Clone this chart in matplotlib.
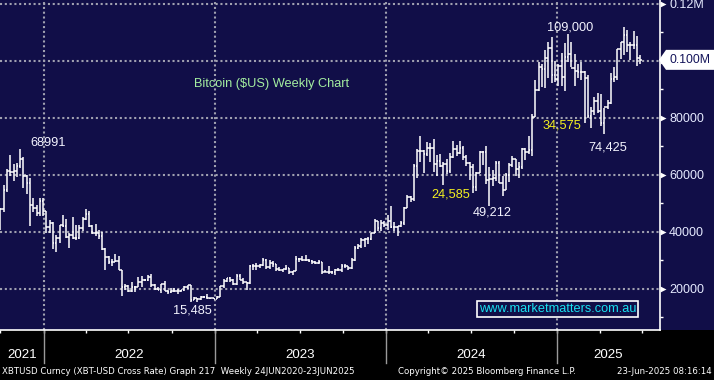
import matplotlib
matplotlib.use("Agg")
import matplotlib.pyplot as plt
import matplotlib.dates as mdates
from matplotlib import patches, transforms, font_manager
import numpy as np
import pandas as pd

# weekly XBTUSD bars (thousands of USD), dated on Fridays
first_week = "2021-10-01"

open_2021 = [43.2, 48.2, 54.9, 61.5, 61.1, 61.3, 63.3, 65.5, 59.7, 57.2, 49.4, 48.4, 46.7, 50.8]
high_2021 = [48.4, 56.6, 62.0, 67.0, 63.7, 64.3, 69.0, 66.3, 59.9, 59.0, 51.9, 49.5, 51.8, 52.0]
low_2021 = [40.8, 47.1, 53.9, 59.5, 57.8, 59.4, 62.3, 55.6, 53.3, 42.0, 47.1, 45.5, 45.6, 45.7]
close_2021 = [48.2, 54.9, 61.5, 61.1, 61.3, 63.3, 65.5, 59.7, 57.2, 49.4, 48.4, 46.7, 50.8, 47.3]

open_2022 = [47.3, 41.9, 43.1, 36.3, 37.9, 42.4, 42.2, 38.4, 39.1, 38.0, 37.8, 41.3, 44.5,
             46.4, 42.2, 39.7, 39.5, 38.5, 34.1, 31.3, 29.4, 29.5, 29.9, 26.6, 20.6, 21.0,
             19.3, 20.8, 20.8, 22.6, 23.3, 23.2, 24.3, 21.5, 19.9, 19.8, 21.8, 19.4, 18.8,
             19.3, 19.4, 19.2, 19.6, 20.6, 21.3, 16.3, 16.7, 16.5, 17.1, 17.1, 16.8, 16.8]
high_2022 = [47.5, 44.3, 43.5, 38.9, 42.5, 45.8, 44.7, 39.8, 45.4, 42.4, 42.4, 45.1, 48.2,
             47.4, 42.4, 42.9, 40.8, 40.0, 34.3, 31.4, 30.6, 32.2, 31.6, 26.8, 21.8, 21.5,
             22.4, 21.0, 24.2, 24.6, 23.6, 24.9, 25.2, 21.8, 20.6, 21.8, 22.8, 19.6, 20.3,
             20.4, 19.9, 19.7, 21.0, 21.4, 21.4, 17.2, 16.8, 17.4, 17.4, 18.4, 17.0, 16.9]
low_2022 = [39.7, 39.6, 34.0, 32.9, 36.3, 41.7, 38.0, 34.3, 37.5, 37.2, 37.6, 40.5, 44.3,
            41.9, 39.2, 38.5, 37.6, 33.7, 26.7, 28.6, 28.0, 29.3, 26.6, 17.6, 19.6, 18.8,
            19.0, 18.9, 20.7, 20.7, 22.7, 22.7, 20.8, 19.5, 19.6, 18.5, 19.3, 18.1, 18.5,
            19.0, 18.2, 18.9, 19.3, 20.1, 15.6, 16.2, 15.5, 16.0, 16.9, 16.6, 16.6, 16.4]
close_2022 = [41.9, 43.1, 36.3, 37.9, 42.4, 42.2, 38.4, 39.1, 38.0, 37.8, 41.3, 44.5, 46.4,
              42.2, 39.7, 39.5, 38.5, 34.1, 31.3, 29.4, 29.5, 29.9, 26.6, 20.6, 21.0, 19.3,
              20.8, 20.8, 22.6, 23.3, 23.2, 24.3, 21.5, 19.9, 19.8, 21.8, 19.4, 18.8, 19.3,
              19.4, 19.2, 19.6, 20.6, 21.3, 16.3, 16.7, 16.5, 17.1, 17.1, 16.8, 16.8, 16.6]

open_2023 = [16.6, 17.1, 20.9, 22.7, 23.7, 23.3, 21.8, 24.6, 23.2, 22.4, 22.0, 28.0, 27.9,
             28.0, 28.3, 30.3, 27.6, 29.2, 28.9, 26.9, 26.7, 26.9, 27.2, 25.8, 26.3, 30.5,
             30.6, 30.2, 30.3, 29.9, 29.3, 29.0, 29.4, 26.1, 26.0, 25.8, 25.8, 26.5, 26.6,
             27.9, 27.9, 27.2, 30.0, 34.5, 35.0, 37.1, 37.4, 37.5, 39.5, 43.8, 41.4, 43.0]
high_2023 = [17.4, 21.2, 23.4, 23.8, 24.2, 23.4, 25.2, 25.1, 23.9, 22.6, 28.4, 28.9, 29.2,
             28.6, 31.0, 30.5, 30.0, 29.8, 28.9, 27.6, 27.1, 28.4, 27.2, 26.4, 31.4, 31.0,
             31.4, 31.8, 30.4, 30.0, 29.9, 30.2, 29.5, 26.8, 28.1, 26.2, 26.9, 27.5, 28.6,
             28.6, 28.0, 31.0, 35.2, 35.9, 37.9, 37.9, 38.4, 39.8, 44.7, 44.0, 44.3, 43.8]
low_2023 = [16.5, 17.1, 20.4, 22.3, 22.5, 21.4, 21.4, 23.1, 21.9, 19.6, 21.9, 26.6, 26.5,
            27.2, 28.1, 27.1, 26.9, 27.7, 26.3, 26.4, 25.9, 26.5, 25.4, 24.8, 26.2, 29.5,
            29.7, 29.9, 29.6, 28.9, 28.6, 28.7, 25.2, 25.8, 25.3, 25.4, 24.9, 26.4, 26.0,
            27.3, 26.6, 26.9, 29.9, 34.1, 34.5, 34.8, 35.7, 37.2, 39.5, 40.2, 40.5, 41.6]
close_2023 = [17.1, 20.9, 22.7, 23.7, 23.3, 21.8, 24.6, 23.2, 22.4, 22.0, 28.0, 27.9, 28.0,
              28.3, 30.3, 27.6, 29.2, 28.9, 26.9, 26.7, 26.9, 27.2, 25.8, 26.3, 30.5, 30.6,
              30.2, 30.3, 29.9, 29.3, 29.0, 29.4, 26.1, 26.0, 25.8, 25.8, 26.5, 26.6, 27.9,
              27.9, 27.2, 30.0, 34.5, 35.0, 37.1, 37.4, 37.5, 39.5, 43.8, 41.4, 43.0, 42.3]

open_2024 = [42.3, 43.9, 41.7, 41.6, 42.0, 43.0, 48.3, 52.1, 51.7, 63.1, 68.4, 68.4, 67.2,
             69.6, 69.4, 63.9, 64.9, 63.1, 63.9, 61.5, 66.3, 69.0, 67.8, 69.6, 66.2, 64.3,
             62.7, 55.9, 60.8, 68.2, 68.2, 58.2, 58.7, 58.9, 64.2, 57.3, 54.8, 59.9, 63.6,
             65.6, 62.1, 62.9, 69.0, 68.0, 68.7, 80.4, 89.8, 97.9, 97.3, 101.2, 104.4, 95.2, 93.7]
high_2024 = [45.9, 49.0, 43.5, 42.2, 43.9, 48.6, 52.8, 52.5, 64.0, 69.2, 73.8, 68.9, 71.7,
             71.3, 72.7, 66.9, 67.2, 64.7, 65.5, 67.6, 71.9, 70.6, 72.0, 70.2, 66.9, 64.4,
             63.8, 60.9, 68.4, 68.5, 70.0, 62.7, 61.8, 65.0, 64.9, 59.8, 60.6, 64.1, 66.5,
             65.6, 64.4, 69.4, 69.5, 73.6, 81.5, 93.5, 99.6, 98.9, 104.0, 106.5, 108.3, 99.9, 98.9]
low_2024 = [40.8, 41.5, 40.3, 38.5, 41.8, 42.3, 48.3, 50.6, 50.9, 59.0, 64.5, 60.8, 66.7,
            64.5, 61.0, 59.7, 62.8, 56.5, 60.2, 60.8, 66.1, 66.6, 67.5, 65.1, 63.3, 58.4,
            53.5, 54.3, 60.7, 63.6, 57.0, 49.1, 56.1, 57.8, 57.2, 52.6, 54.6, 57.5, 62.7,
            59.8, 58.9, 62.0, 65.2, 67.5, 66.8, 80.4, 89.4, 90.8, 90.5, 94.2, 92.2, 92.5, 91.3]
close_2024 = [43.9, 41.7, 41.6, 42.0, 43.0, 48.3, 52.1, 51.7, 63.1, 68.4, 68.4, 67.2, 69.6,
              69.4, 63.9, 64.9, 63.1, 63.9, 61.5, 66.3, 69.0, 67.8, 69.6, 66.2, 64.3, 62.7,
              55.9, 60.8, 68.2, 68.2, 58.2, 58.7, 58.9, 64.2, 57.3, 54.8, 59.9, 63.6, 65.6,
              62.1, 62.9, 69.0, 68.0, 68.7, 80.4, 89.8, 97.9, 97.3, 101.2, 104.4, 95.2, 93.7, 98.4]

open_2025 = [98.4, 94.5, 101.3, 102.6, 97.7, 96.5, 96.1, 96.3, 94.2, 80.7, 82.6, 86.1, 82.4,
             78.4, 83.7, 85.2, 93.8, 94.3, 104.2, 106.5, 109.1, 105.7, 105.6, 105.6, 100.9]
high_2025 = [102.7, 106.4, 109.6, 106.5, 102.5, 98.8, 99.5, 96.5, 95.0, 84.0, 87.4, 88.8, 88.5,
             83.6, 86.4, 95.8, 97.9, 104.3, 106.7, 111.9, 110.7, 106.8, 110.6, 108.9, 102.0]
low_2025 = [91.2, 89.3, 99.5, 97.8, 91.2, 94.1, 93.4, 78.2, 80.0, 76.6, 81.2, 81.6, 77.2,
            74.4, 83.0, 85.0, 92.8, 93.4, 100.7, 102.0, 103.1, 100.4, 104.1, 98.2, 99.0]
close_2025 = [94.5, 101.3, 102.6, 97.7, 96.5, 96.1, 96.3, 94.2, 80.7, 82.6, 86.1, 82.4, 78.4,
              83.7, 85.2, 93.8, 94.3, 104.2, 106.5, 109.1, 105.7, 105.6, 105.6, 100.9, 100.4]

year_labels = ["2021", "2022", "2023", "2024", "2025"]
price_ticks = [20000, 40000, 60000, 80000, 100000, 120000]
price_labels = ["20000", "40000", "60000", "80000", "", "0.12M"]

NAVY = "#110e48"
WHITE = "#f4f4ff"
GRID = "#a0a0b0"

# narrow face if the system has it, otherwise plain Liberation Sans a bit smaller
installed = {f.name for f in font_manager.fontManager.ttflist}
if "Liberation Sans Narrow" in installed:
    NARROW, NSIZE = "Liberation Sans Narrow", 11
else:
    NARROW, NSIZE = "Liberation Sans", 9.2

opens = np.array(open_2021 + open_2022 + open_2023 + open_2024 + open_2025) * 1000
highs = np.array(high_2021 + high_2022 + high_2023 + high_2024 + high_2025) * 1000
lows = np.array(low_2021 + low_2022 + low_2023 + low_2024 + low_2025) * 1000
closes = np.array(close_2021 + close_2022 + close_2023 + close_2024 + close_2025) * 1000
dates = pd.date_range(first_week, periods=len(closes), freq="7D")
x = mdates.date2num(dates)

fig = plt.figure(figsize=(7.14, 3.80), dpi=100, facecolor="black")
fig.patches.append(patches.Rectangle((0, 50 / 380), 1, 330 / 380, transform=fig.transFigure,
                                     facecolor=NAVY, edgecolor="none", zorder=-5))
ax = fig.add_axes([0, 50 / 380, 660 / 714, 330 / 380], facecolor=NAVY)

# OHLC bars
ax.vlines(x, lows, highs, color="white", lw=1.1, zorder=3)
ax.hlines(opens, x - 3.2, x, color="white", lw=1.1, zorder=3)
ax.hlines(closes, x, x + 3.2, color="white", lw=1.1, zorder=3)

ax.set_xlim(mdates.datestr2num("2021-09-30"), mdates.datestr2num("2025-08-08"))
ax.set_ylim(5600, 121400)

# grid
for v in price_ticks:
    ax.axhline(v, color=GRID, lw=1.5, ls=(0, (1, 1.3)), zorder=1)
years = [mdates.datestr2num(f"{y}-01-01") for y in range(2022, 2026)]
for d in years:
    ax.axvline(d, color=GRID, lw=1.5, ls=(0, (1, 1.3)), zorder=1)

# axes frame
for s in ["top", "left"]:
    ax.spines[s].set_visible(False)
for s in ["right", "bottom"]:
    ax.spines[s].set_color("white")
    ax.spines[s].set_linewidth(1.2)

# x ticks: quarters, labels drawn by hand
quarters = pd.date_range("2021-10-01", "2025-07-01", freq="QS")
ax.set_xticks(mdates.date2num(quarters))
ax.set_xticklabels([])
ax.tick_params(axis="x", direction="out", length=2.5, width=1, color="white")

# right price axis
ax.yaxis.tick_right()
ax.set_yticks(price_ticks)
ax.set_yticklabels(price_labels)
ax.set_yticks(np.arange(10000, 120000, 20000), minor=True)
ax.tick_params(axis="y", which="major", length=0, pad=6.5, labelcolor="#e6eaff",
               labelsize=9)
ax.tick_params(axis="y", which="minor", length=2.5, width=1, color="white", right=True)
for lab in ax.get_yticklabels():
    lab.set_fontfamily("Liberation Sans")

ytrans = transforms.blended_transform_factory(ax.transAxes, ax.transData)
ax.plot([1 + 3 / 660] * len(price_ticks), price_ticks, ls="none", marker=">", ms=5,
        color="white", mec="none", transform=ytrans, clip_on=False, zorder=5)

# last price tag
last = closes[-1]
fig.canvas.draw()
ax_x, ax_y = ytrans.transform((1.0, last))
tag = np.array([[ax_x - 1, ax_y], [ax_x + 6, ax_y + 10], [714, ax_y + 10],
                [714, ax_y - 10], [ax_x + 6, ax_y - 10]])
ax.add_patch(patches.Polygon(tag, closed=True, facecolor="white", edgecolor="none",
                             transform=transforms.IdentityTransform(), clip_on=False, zorder=6))
ax.text(1 + 9 / 660, last, f"{last / 1e6:.3f}M", transform=ytrans, ha="left", va="center",
        color="#14145a", fontsize=8.8, family="Liberation Sans", clip_on=False, zorder=7)

# year labels and separators
xtrans = transforms.blended_transform_factory(ax.transData, ax.transAxes)
x0, x1 = ax.get_xlim()
edges = [x0] + years + [x1]
for i, lab in enumerate(year_labels):
    ax.text((edges[i] + edges[i + 1]) / 2, -25 / 330, lab, transform=xtrans, ha="center",
            va="center", color="white", fontsize=NSIZE + 0.4, family=NARROW)
for d in years:
    ax.plot([d, d], [0, -33 / 330], transform=xtrans, color="#9a9a9a", lw=1, clip_on=False)

# annotations
note = dict(fontsize=NSIZE, family=NARROW, ha="left", va="center", zorder=4)
ax.text(mdates.datestr2num("2021-12-03"), 71200, "68991", color=WHITE, **note)
ax.text(mdates.datestr2num("2022-10-04"), 12300, "15,485", color=WHITE, **note)
ax.text(mdates.datestr2num("2024-04-08"), 53000, "24,585", color="#f4f020", **note)
ax.text(mdates.datestr2num("2024-07-04"), 46700, "49,212", color=WHITE, **note)
ax.text(mdates.datestr2num("2024-11-30"), 77500, "34,575", color="#f4f020", **note)
ax.text(mdates.datestr2num("2025-03-09"), 69500, "74,425", color=WHITE, **note)
ax.text(mdates.datestr2num("2024-12-09"), 111900, "109,000", color=WHITE, **note)

ax.text(194 / 660, 1 - 84 / 330, "Bitcoin ($US) Weekly Chart", transform=ax.transAxes,
        color="#a4eea0", fontsize=NSIZE, family=NARROW, ha="left", va="center")
ax.text(557.5 / 660, 1 - 309 / 330, "www.marketmatters.com.au", transform=ax.transAxes,
        color="#18e0f0", fontsize=NSIZE, family=NARROW, ha="center",
        va="center", zorder=6,
        bbox=dict(boxstyle="square,pad=0.12", facecolor=NAVY, edgecolor="white", lw=1.2))

# footer
foot = dict(fontsize=6.2, family="DejaVu Sans", color="white", va="center")
fig.text(2 / 714, 8 / 380, "XBTUSD Curncy (XBT-USD Cross Rate) Graph 217  Weekly 24JUN2020-23JUN2025",
         ha="left", **foot)
fig.text(398 / 714, 8 / 380, "Copyright\u00a9 2025 Bloomberg Finance L.P.", ha="left", **foot)
fig.text(712 / 714, 8 / 380, "23-Jun-2025 08:16:14", ha="right", **foot)

fig.savefig("out.png", dpi=100, facecolor="black")
